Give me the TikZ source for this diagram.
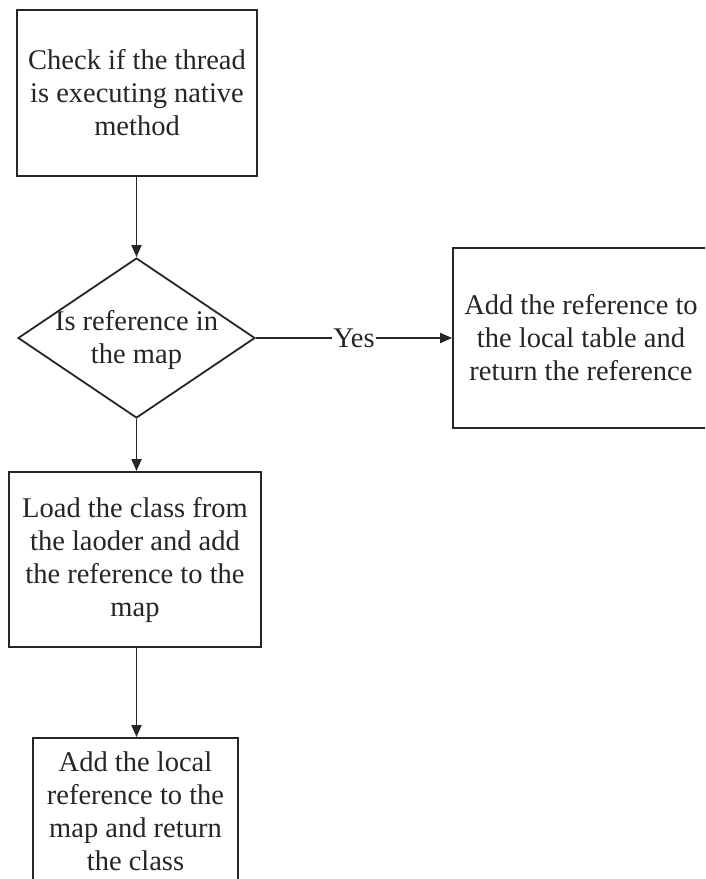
\documentclass[tikz,border=0pt]{standalone}
\usepackage{fontspec}
\setmainfont{Liberation Serif}
\usetikzlibrary{shapes.geometric,arrows.meta}
\definecolor{ink}{HTML}{262626}
\begin{document}
\begin{tikzpicture}[x=1pt,y=-1pt,
  every node/.style={text=ink,font=\fontsize{28.5}{33}\selectfont},
  stepbox/.style={draw=ink,line width=1.8pt,rectangle,inner sep=0pt,align=center},
  decision/.style={draw=ink,line width=1.8pt,diamond,inner sep=0pt,
    minimum width=237pt,minimum height=160pt},
  flow/.style={draw=ink,line width=1.8pt,-{Triangle[length=12pt,width=10pt]}}]
\useasboundingbox (0,0) rectangle (705,879);
\clip (0,0) rectangle (705,879);
\fill[white] (0,0) rectangle (705,879);

\node[stepbox,minimum width=240pt,minimum height=166pt] (check) at (137,93)
  {Check if the thread\\is executing native\\method};
\node[decision] (inmap) at (136.5,338) {};
\node[align=center,inner sep=0pt] (inmaptext) at (136.5,340) {Is reference in\\the map};
\node[stepbox,minimum width=256pt,minimum height=180pt] (addlocal) at (581,338)
  {Add the reference to\\the local table and\\return the reference};
\node[stepbox,minimum width=252pt,minimum height=175pt] (load) at (135,559.5)
  {Load the class from\\the laoder and add\\the reference to the\\map};
\node[stepbox,minimum width=205pt,minimum height=146pt] (ret) at (135.5,811)
  {Add the local\\reference to the\\map and return\\the class};

\draw[flow] (check.south -| inmap.north) -- (inmap.north);
\draw[flow] (inmap.east) -- node[fill=white,inner sep=1pt] {Yes} (addlocal.west);
\draw[flow] (inmap.south) -- (inmap.south |- load.north);
\draw[flow] (load.south -| inmap.south) -- (inmap.south |- ret.north);
\end{tikzpicture}
\end{document}
